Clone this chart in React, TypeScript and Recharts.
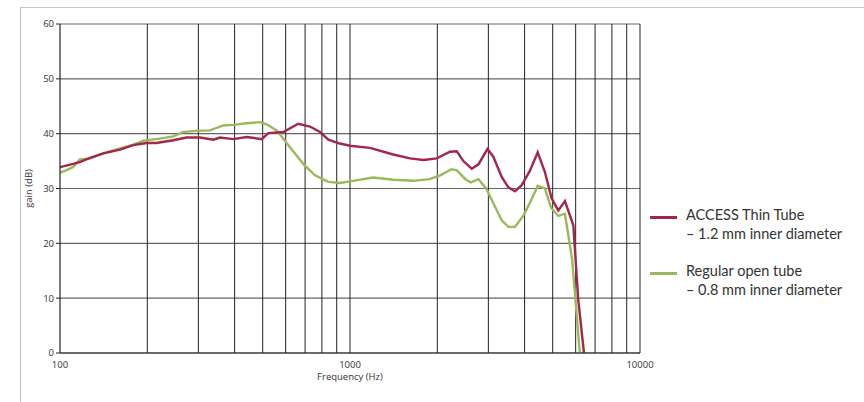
import { LineChart, Line, XAxis, YAxis, CartesianGrid, ReferenceLine } from "recharts"

const accessFreq = [100, 111, 117, 127, 141, 161, 179, 199, 215, 246, 273, 304, 338, 356, 396, 440, 496, 523, 589, 663, 728, 788, 842, 923, 1000, 1172, 1410, 1610, 1790, 1990, 2213, 2334, 2460, 2630, 2773, 2978, 3120, 3335, 3516, 3707, 3910, 4178, 4438, 4700, 4956, 5226, 5510, 5890, 6125, 6410]
const accessGain = [33.9, 34.5, 34.8, 35.6, 36.4, 37.1, 37.9, 38.3, 38.3, 38.8, 39.3, 39.3, 38.9, 39.3, 39.0, 39.4, 39.0, 40.1, 40.3, 41.8, 41.3, 40.3, 38.9, 38.2, 37.8, 37.4, 36.2, 35.5, 35.2, 35.5, 36.7, 36.8, 35.0, 33.6, 34.4, 37.2, 35.8, 32.1, 30.2, 29.5, 30.6, 33.3, 36.6, 33.0, 28.2, 26.0, 27.7, 23.3, 9.7, 0]

const openFreq = [100, 105, 111, 117, 127, 141, 161, 179, 194, 221, 246, 266, 296, 329, 366, 396, 440, 490, 516, 559, 613, 690, 757, 842, 923, 1000, 1200, 1410, 1650, 1880, 2048, 2240, 2334, 2500, 2610, 2773, 2950, 3120, 3335, 3516, 3707, 3965, 4220, 4438, 4700, 4935, 5226, 5510, 5840, 6200]
const openGain = [32.9, 33.3, 33.9, 35.3, 35.5, 36.4, 37.3, 38.0, 38.7, 39.1, 39.5, 40.3, 40.5, 40.6, 41.5, 41.6, 41.9, 42.1, 41.7, 40.6, 37.9, 34.5, 32.4, 31.2, 31.0, 31.3, 32.0, 31.6, 31.4, 31.7, 32.4, 33.5, 33.3, 31.7, 31.1, 31.7, 30.0, 27.3, 24.2, 23.0, 23.0, 25.1, 27.9, 30.5, 30.0, 26.5, 25.0, 25.4, 16.9, 0]

const gridFreqs = [200, 300, 400, 500, 600, 700, 800, 900, 1000, 2000, 3000, 4000, 5000, 6000, 7000, 8000, 9000, 10000]
const xTicks = [100, 1000, 10000]
const yTicks = [0, 10, 20, 30, 40, 50, 60]

const legendItems = [
  { name: "ACCESS Thin Tube", sub: "– 1.2 mm inner diameter", color: "#a3264b" },
  { name: "Regular open tube", sub: "– 0.8 mm inner diameter", color: "#9ab95c" },
]

const accessData = accessFreq.map((freq, i) => ({ freq, gain: accessGain[i] }))
const openData = openFreq.map((freq, i) => ({ freq, gain: openGain[i] }))

const tickStyle = { fontFamily: "Open Sans", fontSize: 9.5, fill: "#333" }

export default function App() {
  return (
    <div style={{ position: "absolute", left: 0, top: 0, width: 864, height: 402, background: "#fff", overflow: "hidden" }}>
      <div style={{ position: "absolute", left: 20, top: 7, right: 0, bottom: 0, borderTop: "1px solid #c4c4c4", borderLeft: "1px solid #c4c4c4" }} />
      <LineChart width={864} height={402} margin={{ top: 24, right: 224, left: 0, bottom: 0 }} style={{ position: "absolute", left: 0, top: 0 }}>
        <CartesianGrid vertical={false} stroke="#666" strokeWidth={1.2} />
        <XAxis
          dataKey="freq"
          type="number"
          scale="log"
          domain={[100, 10000]}
          ticks={xTicks}
          allowDataOverflow
          height={49}
          tickLine={false}
          axisLine={{ stroke: "#222", strokeWidth: 1.2 }}
          tick={tickStyle}
          tickMargin={2}
          label={{ value: "Frequency (Hz)", position: "insideBottom", offset: 22, style: { ...tickStyle, textAnchor: "middle" } }}
        />
        <YAxis
          type="number"
          domain={[0, 60]}
          ticks={yTicks}
          width={60}
          tickSize={4}
          tickLine={{ stroke: "#222" }}
          axisLine={{ stroke: "#222", strokeWidth: 1.2 }}
          tick={tickStyle}
          label={{ value: "gain (dB)", angle: -90, position: "insideLeft", offset: 29, style: { ...tickStyle, textAnchor: "middle" } }}
        />
        {gridFreqs.map((f) => (
          <ReferenceLine key={f} x={f} stroke="#222" strokeWidth={1} />
        ))}
        <Line data={openData} dataKey="gain" type="linear" stroke="#9ab95c" strokeWidth={2.4} dot={false} isAnimationActive={false} />
        <Line data={accessData} dataKey="gain" type="linear" stroke="#a3264b" strokeWidth={2.4} dot={false} isAnimationActive={false} />
      </LineChart>
      {legendItems.map((item, i) => (
        <div key={item.name} style={{ position: "absolute", left: 650, top: 205 + i * 56, fontFamily: "Lato", fontSize: 14.5, color: "#333", lineHeight: "19px" }}>
          <div style={{ position: "absolute", left: 0, top: 11, width: 27, height: 2.5, background: item.color }} />
          <div style={{ marginLeft: 36 }}>{item.name}</div>
          <div style={{ marginLeft: 36 }}>{item.sub}</div>
        </div>
      ))}
    </div>
  )
}
